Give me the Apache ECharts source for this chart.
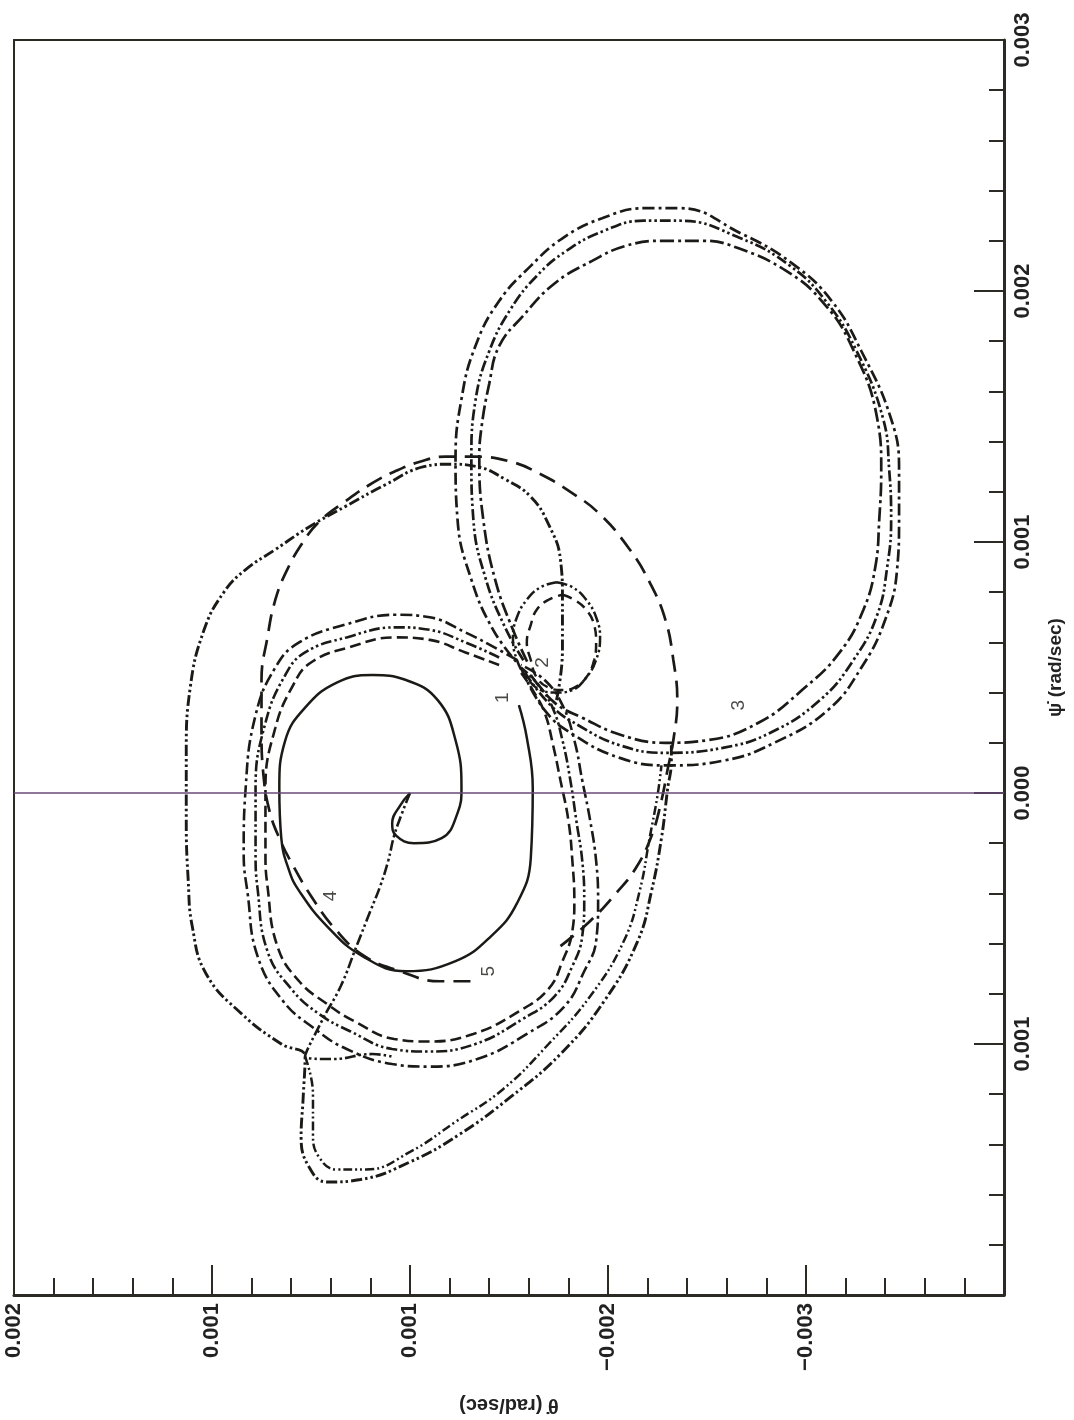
<!DOCTYPE html>
<html>
<head>
<meta charset="utf-8">
<script src="https://cdn.jsdelivr.net/npm/echarts/dist/echarts.min.js"></script>
<style>
html,body{margin:0;padding:0;background:#ffffff;}
#chart{width:1074px;height:1420px;}
</style>
</head>
<body>
<div id="chart"></div>
<script>
// θ̇ (horizontal, rad/sec) tick values and the labels printed on the original
const THETA_TICKS = [0.002, 0.001, 0, -0.001, -0.002, -0.003];
const THETA_LABELS = ['0.002', '0.001', '0.001', '\u22120.002', '\u22120.003', ''];
// ψ̇ (vertical, rad/sec) tick values and printed labels
const PSI_TICKS = [0.003, 0.002, 0.001, 0, -0.001, -0.002];
const PSI_LABELS = ['0.003', '0.002', '0.001', '0.000', '0.001', ''];

// trajectory 1 (solid spiral)  [θ̇, ψ̇]
const curve1 = [[0,0],[0.00005,-0.00005],[0.00009,-0.00012],[0.00007,-0.00017],[-0.00002,-0.0002],[-0.00016,-0.00018],[-0.00024,-0.00008],[-0.00026,0.00002],[-0.00023,0.00021],[-0.00014,0.00037],[0.00002,0.00045],[0.00019,0.00047],[0.00037,0.00044],[0.00053,0.00034],[0.00063,0.00021],[0.00066,0.00002],[0.00065,-0.00018],[0.00061,-0.00031],[0.00056,-0.00039],[0.00042,-0.00053],[0.00024,-0.00065],[0.00002,-0.00071],[-0.00023,-0.00067],[-0.00041,-0.00057],[-0.00054,-0.00044],[-0.00061,-0.00026],[-0.00062,0.00002],[-0.00059,0.00022],[-0.00055,0.00035]];

// trajectory 2 small loops
const curve2a = [[-0.00074,0.00084],[-0.00082,0.00082],[-0.00089,0.00077],[-0.00094,0.0007],[-0.00096,0.00062],[-0.00094,0.00053],[-0.00089,0.00046],[-0.00082,0.00041],[-0.00074,0.0004],[-0.00066,0.00041],[-0.00059,0.00046],[-0.00054,0.00053],[-0.00052,0.00062],[-0.00054,0.0007],[-0.00059,0.00077],[-0.00066,0.00082],[-0.00074,0.00084]];
const curve2b = [[-0.00077,0.00079],[-0.00083,0.00077],[-0.00089,0.00073],[-0.00093,0.00067],[-0.00094,0.0006],[-0.00093,0.00053],[-0.00089,0.00046],[-0.00083,0.00042],[-0.00077,0.00041],[-0.0007,0.00042],[-0.00064,0.00046],[-0.00061,0.00053],[-0.00059,0.0006],[-0.00061,0.00067],[-0.00064,0.00073],[-0.0007,0.00077],[-0.00077,0.00079]];

// trajectory 3 large loop (three strands)
const curve3a = [[-0.00056,0.0005],[-0.00068,0.00033],[-0.00083,0.00023],[-0.00106,0.00014],[-0.00129,0.00011],[-0.00159,0.00013],[-0.00184,0.0002],[-0.00211,0.00033],[-0.00228,0.0005],[-0.0024,0.00069],[-0.00246,0.00089],[-0.00247,0.00109],[-0.00247,0.00129],[-0.00243,0.00149],[-0.00228,0.00176],[-0.00213,0.00196],[-0.00193,0.00211],[-0.00167,0.00223],[-0.00136,0.00233],[-0.00119,0.00233],[-0.00097,0.00229],[-0.00077,0.00221],[-0.00061,0.0021],[-0.00045,0.00196],[-0.00033,0.00178],[-0.00026,0.00157],[-0.00023,0.00133],[-0.00024,0.00109],[-0.00031,0.00085],[-0.00042,0.00065],[-0.00054,0.00052]];
const curve3b = [[-0.00058,0.00048],[-0.00071,0.00035],[-0.00085,0.00027],[-0.00106,0.00019],[-0.00129,0.00016],[-0.00158,0.00018],[-0.00182,0.00024],[-0.00207,0.00037],[-0.00224,0.00053],[-0.00236,0.00071],[-0.00241,0.0009],[-0.00243,0.00109],[-0.00242,0.00129],[-0.00239,0.00149],[-0.00225,0.00177],[-0.0021,0.00196],[-0.00192,0.0021],[-0.00167,0.00221],[-0.00136,0.00228],[-0.00118,0.00228],[-0.00098,0.00224],[-0.00079,0.00216],[-0.00064,0.00206],[-0.00051,0.00193],[-0.0004,0.00176],[-0.00033,0.00156],[-0.00031,0.00133],[-0.00032,0.00109],[-0.00038,0.00086],[-0.00048,0.00066],[-0.00058,0.00052]];
const curve3c = [[-0.00061,0.00047],[-0.00073,0.00036],[-0.00087,0.0003],[-0.00107,0.00023],[-0.00129,0.0002],[-0.0015,0.00021],[-0.00176,0.00028],[-0.00198,0.00041],[-0.00217,0.00056],[-0.00229,0.00073],[-0.00235,0.0009],[-0.00237,0.00109],[-0.00238,0.00129],[-0.00236,0.00149],[-0.00223,0.00178],[-0.00208,0.00196],[-0.0019,0.00208],[-0.00166,0.00217],[-0.00148,0.0022],[-0.00128,0.0022],[-0.00109,0.00218],[-0.00092,0.00212],[-0.00073,0.00203],[-0.00057,0.0019],[-0.00045,0.00178],[-0.0004,0.00163],[-0.00036,0.00145],[-0.00035,0.00133],[-0.00037,0.00109],[-0.00043,0.00085],[-0.00052,0.00065],[-0.0006,0.00051]];

// middle loop bundle (three strands)
const loopMa = [[-0.00054,0.00053],[-0.00045,0.00057],[-0.00028,0.00064],[-0.0001,0.0007],[0.00007,0.00071],[0.00033,0.00067],[0.00056,0.0006],[0.00068,0.0005],[0.00078,0.00031],[0.00083,0.00002],[0.00084,-0.00024],[0.00082,-0.0004],[0.00077,-0.00065],[0.00064,-0.00083],[0.00048,-0.00094],[0.00032,-0.00102],[0.00009,-0.00108],[-0.00009,-0.00109],[-0.00034,-0.00106],[-0.00059,-0.00096],[-0.00078,-0.00085],[-0.00088,-0.00071],[-0.00094,-0.00059],[-0.00095,-0.00043],[-0.00094,-0.00027],[-0.00091,-0.00011],[-0.00087,0.00005],[-0.00083,0.00021],[-0.00077,0.00035],[-0.00068,0.00045],[-0.00056,0.00051]];
const loopMb = [[-0.00045,0.00054],[-0.00028,0.0006],[-0.0001,0.00065],[0.00007,0.00066],[0.00032,0.00062],[0.00053,0.00056],[0.00063,0.00047],[0.00073,0.00028],[0.00078,0.00002],[0.00078,-0.00024],[0.00077,-0.00038],[0.00072,-0.00063],[0.0006,-0.00078],[0.00046,-0.00088],[0.0003,-0.00095],[0.00009,-0.00102],[-0.00009,-0.00103],[-0.00033,-0.001],[-0.00057,-0.0009],[-0.00073,-0.00081],[-0.00082,-0.00069],[-0.00087,-0.00057],[-0.00088,-0.00043],[-0.00087,-0.00027],[-0.00084,-0.00011],[-0.00081,0.00005],[-0.00077,0.00021],[-0.00072,0.00034],[-0.00065,0.00043],[-0.00056,0.0005]];
const loopMc = [[-0.00045,0.00051],[-0.00028,0.00056],[-0.0001,0.00061],[0.00007,0.00062],[0.00031,0.00058],[0.0005,0.00052],[0.00059,0.00043],[0.00068,0.00026],[0.00073,0.00002],[0.00073,-0.00024],[0.00072,-0.00037],[0.00067,-0.00061],[0.00056,-0.00075],[0.00042,-0.00084],[0.00028,-0.00091],[0.00008,-0.00098],[-0.00009,-0.00099],[-0.00032,-0.00096],[-0.00055,-0.00087],[-0.0007,-0.00078],[-0.00077,-0.00067],[-0.00082,-0.00055],[-0.00083,-0.00043],[-0.00082,-0.00027],[-0.0008,-0.00011],[-0.00076,0.00005],[-0.00072,0.0002],[-0.00068,0.00032],[-0.00062,0.00041],[-0.00056,0.00048]];

// trajectory 4: start, outer loop and tear-drop
const curve4start = [[0,0],[0.00004,-0.00008],[0.00008,-0.00017],[0.00011,-0.00027],[0.00015,-0.00037],[0.0002,-0.00047],[0.00027,-0.00061],[0.00035,-0.00077],[0.00044,-0.0009],[0.00053,-0.00105],[0.00039,-0.00106],[0.00019,-0.00104],[0.00009,-0.00105]];
const outerLoop = [[-0.00074,0.00037],[-0.00077,0.00057],[-0.00077,0.00077],[-0.00076,0.00093],[-0.0007,0.00107],[-0.00061,0.00118],[-0.00048,0.00125],[-0.00034,0.0013],[-0.0002,0.00131],[-0.00007,0.0013],[0.00012,0.00123],[0.00033,0.00114],[0.00051,0.00106],[0.00068,0.00097],[0.00083,0.00089],[0.00094,0.0008],[0.00104,0.00065],[0.00111,0.00042],[0.00113,0.00016],[0.00113,-0.00011],[0.00112,-0.00035],[0.0011,-0.00053],[0.00103,-0.00072],[0.00085,-0.00088],[0.00065,-0.001],[0.00053,-0.00105],[0.00054,-0.00122],[0.00055,-0.00137],[0.00051,-0.00149],[0.00042,-0.00155],[0.00025,-0.00154],[0,-0.00147],[-0.00025,-0.00136],[-0.00051,-0.00121],[-0.00076,-0.00104],[-0.00098,-0.00083],[-0.00115,-0.00059],[-0.00122,-0.00039],[-0.00127,-0.00018],[-0.0013,0.00001],[-0.00132,0.00013],[-0.00132,0.00019]];
const tearInner = [[0.00053,-0.00105],[0.00049,-0.0012],[0.00049,-0.00136],[0.00046,-0.00145],[0.00037,-0.0015],[0.00022,-0.0015],[0,-0.00143],[-0.00023,-0.00131],[-0.00047,-0.00118],[-0.0007,-0.001],[-0.00091,-0.00081],[-0.00108,-0.00059],[-0.00116,-0.00039],[-0.00121,-0.00018],[-0.00125,-0.00001],[-0.00127,0.00011]];

// trajectory 5 (long dashes)
const curve5 = [[-0.00076,-0.00061],[-0.00091,-0.00051],[-0.00104,-0.0004],[-0.00114,-0.0003],[-0.00122,-0.00017],[-0.00127,-0.00003],[-0.0013,0.00009],[-0.00133,0.00021],[-0.00135,0.00037],[-0.00133,0.00053],[-0.00129,0.00069],[-0.00121,0.00084],[-0.00111,0.00097],[-0.00096,0.00111],[-0.00081,0.0012],[-0.00066,0.00127],[-0.00051,0.00132],[-0.00033,0.00134],[-0.00018,0.00134],[-0.00005,0.00132],[0.00008,0.00128],[0.0002,0.00123],[0.00033,0.00116],[0.00046,0.00108],[0.00054,0.001],[0.00062,0.00089],[0.00068,0.00077],[0.00072,0.00062],[0.00075,0.00045],[0.00075,0.00025],[0.00074,0.00007],[0.00071,-0.00007],[0.00066,-0.00018],[0.00059,-0.00029],[0.0005,-0.00041],[0.00038,-0.00054],[0.00023,-0.00065],[0.00005,-0.00071],[-0.00015,-0.00075],[-0.00034,-0.00075]];

// curve number labels and where they sit
const labelNames = ['1', '2', '3', '4', '5'];
const labelPos = [[-0.00047,0.00038],[-0.00067,0.00052],[-0.00166,0.00035],[0.0004,-0.00041],[-0.0004,-0.00071]];

const INK = '#1b1a17';
const FONT = '"Liberation Sans", Arial, Helvetica, sans-serif';
const DASH_DOT = [12, 4, 3, 4];
const DASH_DOT_DOT = [11, 3, 2.5, 3, 2.5, 3];
const LONG_DASH = [17, 9];
const DASH = [11, 5];

function pick(ticks, labels, v) {
  for (let i = 0; i < ticks.length; i++) {
    if (Math.abs(ticks[i] - v) < 1e-9) return labels[i];
  }
  return '';
}

function trace(data, type, width) {
  return {
    type: 'line', data: data, smooth: 0.45, symbol: 'none', showSymbol: false,
    silent: true, animation: false, z: 3,
    lineStyle: { color: INK, width: width, type: type, cap: 'butt' }
  };
}

const chart = echarts.init(document.getElementById('chart'), null, { renderer: 'canvas' });

const series = [
  trace(curve3a, DASH_DOT, 2.7),
  trace(curve3b, DASH_DOT_DOT, 2.7),
  trace(curve3c, [14, 4, 3, 4], 2.7),
  trace(loopMa, DASH_DOT, 2.6),
  trace(loopMb, DASH_DOT_DOT, 2.6),
  trace(loopMc, DASH, 2.6),
  trace(outerLoop, DASH_DOT_DOT, 2.9),
  trace(tearInner, [9, 3, 2, 3, 2, 3], 2.5),
  trace(curve4start, DASH_DOT_DOT, 2.6),
  trace(curve5, LONG_DASH, 2.7),
  trace(curve2a, DASH_DOT_DOT, 2.5),
  trace(curve2b, [10, 6], 2.5),
  trace(curve1, 'solid', 2.5),
  {
    type: 'scatter', silent: true, animation: false, z: 5,
    symbolSize: 0.1, itemStyle: { color: 'rgba(0,0,0,0)' },
    data: labelNames.map((n, i) => ({ name: n, value: labelPos[i] })),
    label: { show: true, formatter: '{b}', rotate: 90, position: 'inside',
             fontSize: 19, color: INK, fontFamily: FONT }
  },
  {
    type: 'line', data: [], silent: true, animation: false,
    markLine: {
      silent: true, symbol: 'none', animation: false,
      label: { show: false },
      lineStyle: { color: '#6a4a78', width: 1.5, type: 'solid' },
      data: [{ yAxis: 0 }]
    }
  }
];

chart.setOption({
  backgroundColor: '#ffffff',
  animation: false,
  grid: { left: 14, right: 70, top: 40, bottom: 125, show: true,
          borderColor: '#2b2a24', borderWidth: 2, backgroundColor: 'transparent' },
  xAxis: {
    type: 'value', inverse: true, min: -0.003, max: 0.002, interval: 0.001,
    position: 'bottom',
    axisLine: { show: true, onZero: false, lineStyle: { color: '#2b2a24', width: 3 } },
    axisTick: { show: true, inside: true, length: 30, lineStyle: { color: '#2b2a24', width: 2 } },
    minorTick: { show: true, splitNumber: 5, length: 17, lineStyle: { color: '#2b2a24', width: 2 } },
    splitLine: { show: false },
    axisLabel: { rotate: 90, margin: 8, fontSize: 22, fontWeight: 'bold', color: '#222',
                 fontFamily: FONT,
                 formatter: v => pick(THETA_TICKS, THETA_LABELS, v) },
    name: '\u03B8\u0307 (rad/sec)', nameLocation: 'middle', nameRotate: 180, nameGap: 100,
    nameTextStyle: { fontSize: 20, fontWeight: 'bold', color: '#222', fontFamily: FONT }
  },
  yAxis: {
    type: 'value', min: -0.002, max: 0.003, interval: 0.001, position: 'right',
    axisLine: { show: true, onZero: false, lineStyle: { color: '#2b2a24', width: 3 } },
    axisTick: { show: true, inside: true, length: 30, lineStyle: { color: '#2b2a24', width: 2 } },
    minorTick: { show: true, splitNumber: 5, length: 15, lineStyle: { color: '#2b2a24', width: 2 } },
    splitLine: { show: false },
    axisLabel: { rotate: 90, margin: 8, fontSize: 22, fontWeight: 'bold', color: '#222',
                 fontFamily: FONT,
                 formatter: v => pick(PSI_TICKS, PSI_LABELS, v) },
    name: '\u03C8\u0307 (rad/sec)', nameLocation: 'middle', nameRotate: 90, nameGap: 42,
    nameTextStyle: { fontSize: 19, fontWeight: 'bold', color: '#222', fontFamily: FONT }
  },
  series: series
});
</script>
</body>
</html>
